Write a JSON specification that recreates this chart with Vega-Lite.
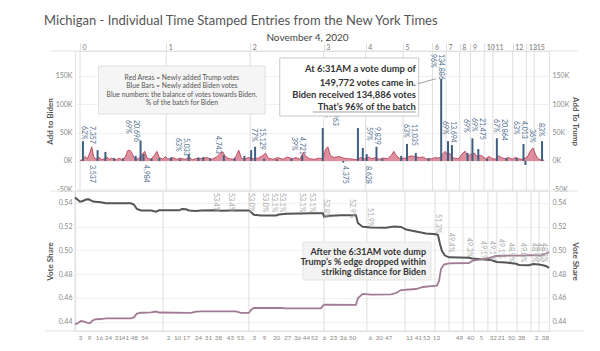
{
  "$schema": "https://vega.github.io/schema/vega-lite/v6.json",
  "background": "white",
  "padding": {"left": 44, "top": 14, "right": 0, "bottom": 0},
  "title": {"text": "Michigan - Individual Time Stamped Entries from the New York Times", "anchor": "start", "frame": "bounds", "font": "Lato", "fontSize": 13, "fontWeight": "normal", "color": "#555555", "offset": 4},
  "config": {
    "view": {"stroke": "#e2e2e2"},
    "font": "Lato",
    "axis": {"labelFont": "Lato", "titleFont": "Lato", "domain": false, "ticks": false, "labelFontSize": 7, "labelColor": "#888888", "titleFontSize": 8, "titleColor": "#555555", "titleFontWeight": "bold", "gridColor": "#f1f1f1", "labelOverlap": false},
    "text": {"font": "Lato"}
  },
  "datasets": {
    "hours": [
      {"i": 0, "h": "0"}, {"i": 35.3, "h": "1"}, {"i": 69.7, "h": "2"}, {"i": 99.8, "h": "3"}, {"i": 117, "h": "4"},
      {"i": 132.3, "h": "5"}, {"i": 144.3, "h": "6"}, {"i": 149.9, "h": "7"}, {"i": 155.5, "h": "8"}, {"i": 159.9, "h": "9"},
      {"i": 165.5, "h": "10"}, {"i": 169.1, "h": "11"}, {"i": 177.2, "h": "12"}, {"i": 182.8, "h": "13"}, {"i": 186, "h": "15"}
    ],
    "blue": [
      {"i": 1.2, "v": 35000}, {"i": 7.2, "v": 19000}, {"i": 10.4, "v": 16000}, {"i": 14, "v": 5000}, {"i": 17.6, "v": 4000},
      {"i": 22.8, "v": 9000}, {"i": 24.8, "v": 36000}, {"i": 26, "v": 12000}, {"i": 29.3, "v": 4000}, {"i": 32.5, "v": 5000},
      {"i": 37.3, "v": 6000}, {"i": 40.9, "v": 3000}, {"i": 44.5, "v": 12000}, {"i": 48.5, "v": 6000}, {"i": 50.5, "v": 7000},
      {"i": 53.3, "v": 4000}, {"i": 58.9, "v": 10000}, {"i": 63.3, "v": 5000}, {"i": 67.3, "v": 9000}, {"i": 70.1, "v": 19000},
      {"i": 71.7, "v": 25000}, {"i": 75.4, "v": 4000}, {"i": 80.6, "v": 3000}, {"i": 86.6, "v": 4000}, {"i": 91, "v": 10000},
      {"i": 99.4, "v": 58000}, {"i": 107.8, "v": -3000}, {"i": 113.8, "v": 58000}, {"i": 115.8, "v": 23000}, {"i": 117.4, "v": 12000},
      {"i": 121.4, "v": 25000}, {"i": 123.8, "v": 4000}, {"i": 131.5, "v": 9000}, {"i": 133.9, "v": 30000}, {"i": 137.5, "v": 14000},
      {"i": 142.7, "v": 5000}, {"i": 147.9, "v": 145000}, {"i": 150.7, "v": 35000}, {"i": 152.3, "v": 28000}, {"i": 158.7, "v": 14000},
      {"i": 160.7, "v": 40000}, {"i": 163.1, "v": 21000}, {"i": 166.7, "v": 4000}, {"i": 170.7, "v": 40000}, {"i": 174.7, "v": 5000},
      {"i": 178.8, "v": 6000}, {"i": 181.6, "v": 30000}, {"i": 182.4, "v": -7000}, {"i": 189.2, "v": 35000}
    ],
    "red": [
      {"i":0,"v":0},{"i":1,"v":3000},{"i":2,"v":8000},{"i":3,"v":4000},{"i":4,"v":14000},{"i":4.8,"v":25000},{"i":5.6,"v":8000},{"i":6.5,"v":3000},{"i":8,"v":6000},{"i":9,"v":2000},{"i":11,"v":7000},{"i":12,"v":3000},{"i":13,"v":5000},{"i":15,"v":2000},{"i":16,"v":5000},{"i":17,"v":3000},{"i":18.5,"v":6000},{"i":19.5,"v":18000},{"i":20.5,"v":19000},{"i":21.5,"v":12000},{"i":22.5,"v":3000},{"i":24,"v":4000},{"i":26.5,"v":17000},{"i":27.5,"v":5000},{"i":29,"v":3000},{"i":30.5,"v":10000},{"i":31.5,"v":17000},{"i":32.5,"v":6000},{"i":34,"v":3000},{"i":35,"v":8000},{"i":36,"v":3000},{"i":38,"v":6000},{"i":39.5,"v":3000},{"i":41,"v":5000},{"i":43,"v":3000},{"i":45,"v":6000},{"i":46,"v":2000},{"i":48,"v":5000},{"i":50,"v":4000},{"i":52,"v":6000},{"i":54,"v":3000},{"i":56,"v":7000},{"i":57.5,"v":14000},{"i":58.5,"v":16000},{"i":59.5,"v":8000},{"i":61,"v":4000},{"i":63,"v":3000},{"i":64,"v":9000},{"i":65,"v":19000},{"i":66,"v":6000},{"i":67,"v":3000},{"i":69,"v":6000},{"i":71,"v":4000},{"i":73,"v":5000},{"i":75,"v":10000},{"i":76,"v":14000},{"i":77,"v":5000},{"i":79,"v":3000},{"i":81,"v":6000},{"i":83,"v":3000},{"i":85,"v":7000},{"i":87,"v":4000},{"i":88.5,"v":6000},{"i":90,"v":3000},{"i":91.5,"v":15000},{"i":92.5,"v":8000},{"i":94,"v":4000},{"i":96,"v":3000},{"i":98,"v":5000},{"i":99.5,"v":4000},{"i":100.5,"v":20000},{"i":101.5,"v":25000},{"i":102.5,"v":10000},{"i":104,"v":6000},{"i":106,"v":8000},{"i":108,"v":5000},{"i":110,"v":4000},{"i":112,"v":3000},{"i":113,"v":2000},{"i":115,"v":6000},{"i":116.5,"v":4000},{"i":118,"v":7000},{"i":119.5,"v":4000},{"i":121,"v":6000},{"i":122.5,"v":3000},{"i":124,"v":5000},{"i":126,"v":4000},{"i":127.5,"v":10000},{"i":128.5,"v":17000},{"i":129.5,"v":10000},{"i":131,"v":4000},{"i":133,"v":5000},{"i":135.5,"v":9000},{"i":137,"v":8000},{"i":139,"v":6000},{"i":140.5,"v":7000},{"i":142,"v":3000},{"i":144,"v":4000},{"i":145.5,"v":6000},{"i":147,"v":5000},{"i":148.5,"v":12000},{"i":149.5,"v":17000},{"i":150.5,"v":10000},{"i":151.5,"v":13000},{"i":153,"v":5000},{"i":155,"v":4000},{"i":156,"v":10000},{"i":157,"v":15000},{"i":157.8,"v":17000},{"i":158.8,"v":8000},{"i":160,"v":12000},{"i":161.5,"v":14000},{"i":162.5,"v":8000},{"i":164,"v":10000},{"i":165,"v":8000},{"i":166,"v":4000},{"i":167.5,"v":8000},{"i":168.5,"v":5000},{"i":170,"v":3000},{"i":171.5,"v":9000},{"i":172.5,"v":6000},{"i":174,"v":4000},{"i":175.5,"v":6000},{"i":177,"v":3000},{"i":178,"v":6000},{"i":179.5,"v":4000},{"i":181,"v":3000},{"i":183,"v":6000},{"i":184.5,"v":18000},{"i":185.5,"v":23000},{"i":186.5,"v":12000},{"i":187.5,"v":4000},{"i":188.5,"v":2000},{"i":189.5,"v":3000},{"i":190,"v":0}
    ],
    "barlabels": [
      {"i": 3.2, "v": 61680, "num": "7,357", "pct": "62%"},
      {"i": 21.2, "v": 72260, "num": "20,696", "pct": "69%"},
      {"i": 41.9, "v": 40510, "num": "5,033", "pct": "63%"},
      {"i": 54.9, "v": 44030, "num": "4,743", "pct": ""},
      {"i": 72.9, "v": 58150, "num": "15,129", "pct": "77%"},
      {"i": 89.4, "v": 42270, "num": "4,721", "pct": "39%"},
      {"i": 102.6, "v": 100490, "num": "22,963", "pct": "83%"},
      {"i": 119.8, "v": 59910, "num": "9,829", "pct": "59%"},
      {"i": 135.1, "v": 65210, "num": "11,035", "pct": "63%"},
      {"i": 146.3, "v": 188710, "num": "134,886", "pct": "96%"},
      {"i": 151.1, "v": 70500, "num": "13,694", "pct": "69%"},
      {"i": 159.9, "v": 74030, "num": "", "pct": "69%"},
      {"i": 163.1, "v": 75790, "num": "21,475", "pct": "69%"},
      {"i": 172.1, "v": 74030, "num": "20,864", "pct": "67%"},
      {"i": 180.0, "v": 70500, "num": "4,013", "pct": "63%"},
      {"i": 186.8, "v": 56390, "num": "", "pct": "36%"},
      {"i": 190.4, "v": 66970, "num": "", "pct": "83%"},
      {"i": 3.2, "v": -7130, "num": "3,537", "pct": ""},
      {"i": 25.3, "v": -7130, "num": "4,984", "pct": ""},
      {"i": 107.0, "v": -8900, "num": "4,375", "pct": ""},
      {"i": 116.2, "v": -8900, "num": "8,628", "pct": ""}
    ],
    "trump": [
      {"i":0,"v":0.5444},{"i":1.2,"v":0.5424},{"i":2.0,"v":0.5410},{"i":3.2,"v":0.5416},{"i":4.4,"v":0.5428},{"i":5.6,"v":0.5430},{"i":6.4,"v":0.5420},{"i":7.2,"v":0.5411},{"i":10.4,"v":0.5405},{"i":12.4,"v":0.5396},{"i":22.4,"v":0.5396},{"i":23.6,"v":0.5386},{"i":24.8,"v":0.5348},{"i":26.5,"v":0.5336},{"i":30.5,"v":0.5336},{"i":32.5,"v":0.5325},{"i":33.7,"v":0.5337},{"i":41.7,"v":0.5337},{"i":42.9,"v":0.5348},{"i":44.5,"v":0.5346},{"i":45.7,"v":0.5336},{"i":48.5,"v":0.5331},{"i":50.5,"v":0.5336},{"i":56.5,"v":0.5337},{"i":58.5,"v":0.5333},{"i":62.5,"v":0.5336},{"i":69.7,"v":0.5336},{"i":70.5,"v":0.5323},{"i":71.7,"v":0.5299},{"i":74.5,"v":0.5293},{"i":80.6,"v":0.5293},{"i":81.8,"v":0.5302},{"i":84.6,"v":0.5308},{"i":90.6,"v":0.5310},{"i":94.6,"v":0.5312},{"i":99.4,"v":0.5312},{"i":99.8,"v":0.5283},{"i":102.6,"v":0.5291},{"i":106.6,"v":0.5295},{"i":112.6,"v":0.5295},{"i":113.4,"v":0.5230},{"i":114.6,"v":0.5209},{"i":115.4,"v":0.5198},{"i":118.6,"v":0.5192},{"i":124.6,"v":0.5190},{"i":127.9,"v":0.5201},{"i":130.7,"v":0.5197},{"i":132.7,"v":0.5175},{"i":136.7,"v":0.5159},{"i":140.7,"v":0.5142},{"i":144.7,"v":0.5135},{"i":145.5,"v":0.5129},{"i":146.3,"v":0.5053},{"i":147.1,"v":0.4994},{"i":148.3,"v":0.4956},{"i":149.9,"v":0.4941},{"i":157.9,"v":0.4938},{"i":159.1,"v":0.4931},{"i":162.7,"v":0.4924},{"i":166.7,"v":0.4918},{"i":169.1,"v":0.4901},{"i":172.7,"v":0.4897},{"i":176.8,"v":0.4886},{"i":178.0,"v":0.4876},{"i":182.0,"v":0.4874},{"i":183.6,"v":0.4885},{"i":186.0,"v":0.4880},{"i":188.0,"v":0.4872},{"i":189.2,"v":0.4864},{"i":190,"v":0.4851}
    ],
    "biden": [
      {"i":0,"v":0.4376},{"i":1.2,"v":0.4387},{"i":2.4,"v":0.4404},{"i":3.6,"v":0.4400},{"i":4.8,"v":0.4390},{"i":6.0,"v":0.4385},{"i":6.8,"v":0.4404},{"i":8.0,"v":0.4418},{"i":10.4,"v":0.4421},{"i":12.4,"v":0.4427},{"i":22.4,"v":0.4427},{"i":23.6,"v":0.4435},{"i":24.8,"v":0.4466},{"i":26.5,"v":0.4474},{"i":30.5,"v":0.4477},{"i":32.5,"v":0.4484},{"i":33.7,"v":0.4476},{"i":46.5,"v":0.4472},{"i":48.5,"v":0.4483},{"i":50.5,"v":0.4486},{"i":64.5,"v":0.4486},{"i":66.5,"v":0.4473},{"i":69.7,"v":0.4472},{"i":70.5,"v":0.4497},{"i":71.7,"v":0.4514},{"i":82.6,"v":0.4514},{"i":84.6,"v":0.4511},{"i":98.6,"v":0.4511},{"i":99.8,"v":0.4543},{"i":112.6,"v":0.4540},{"i":113.4,"v":0.4598},{"i":115.4,"v":0.4633},{"i":118.6,"v":0.4627},{"i":126.7,"v":0.4629},{"i":128.7,"v":0.4640},{"i":130.7,"v":0.4665},{"i":136.7,"v":0.4674},{"i":139.5,"v":0.4691},{"i":142.7,"v":0.4699},{"i":145.1,"v":0.4703},{"i":145.9,"v":0.4741},{"i":146.7,"v":0.4842},{"i":147.9,"v":0.4880},{"i":149.9,"v":0.4890},{"i":157.9,"v":0.4893},{"i":159.5,"v":0.4914},{"i":162.7,"v":0.4923},{"i":166.7,"v":0.4939},{"i":168.7,"v":0.4952},{"i":174.7,"v":0.4956},{"i":178.8,"v":0.4956},{"i":182.8,"v":0.4960},{"i":186.8,"v":0.4956},{"i":188.8,"v":0.4973},{"i":190,"v":0.4986}
    ],
    "sharelabels": [
      {"i":56.5,"v":0.5483,"t":"53.4%"},{"i":62.5,"v":0.5483,"t":"53.4%"},{"i":70.5,"v":0.5483,"t":"53.0%"},{"i":76.2,"v":0.5483,"t":"53.0%"},{"i":79.8,"v":0.5483,"t":"53.1%"},{"i":83.0,"v":0.5483,"t":"53.1%"},{"i":91.0,"v":0.5483,"t":"53.1%"},{"i":95.0,"v":0.5483,"t":"53.1%"},{"i":100.6,"v":0.5433,"t":"52.8%"},{"i":111.0,"v":0.5433,"t":"52.9%"},{"i":118.2,"v":0.5357,"t":"51.9%"},{"i":145.5,"v":0.5306,"t":"51.3%"},{"i":150.7,"v":0.5146,"t":"49.4%"},{"i":157.9,"v":0.5104,"t":"49.3%"},{"i":163.5,"v":0.5078,"t":"49.1%"},{"i":167.1,"v":0.5078,"t":"49.1%"},{"i":170.7,"v":0.5095,"t":"49.1%"},{"i":174.7,"v":0.5062,"t":"48.9%"},{"i":179.6,"v":0.5062,"t":"49.0%"},{"i":184.0,"v":0.5062,"t":"48.9%"},{"i":186.0,"v":0.5062,"t":"48.9%"},{"i":188.0,"v":0.5062,"t":"48.8%"}
    ]
  },
  "spacing": 0,
  "bounds": "flush",
  "vconcat": [
    {
      "width": 474,
      "height": 140,
      "resolve": {"scale": {"y": "independent"}, "axis": {"x": "independent", "y": "independent"}},
      "layer": [
        {
          "data": {"name": "hours"},
          "mark": {"type": "rule", "color": "#dedede", "strokeWidth": 1},
          "encoding": {
            "x": {"field": "i", "type": "quantitative", "scale": {"domain": [0, 190], "nice": false},
              "axis": {"orient": "top", "values": [0, 35.3, 69.7, 99.8, 117, 132.3, 144.3, 149.9, 155.5, 159.9, 165.5, 169.1, 177.2, 182.8, 186],
                "labelExpr": "['0','1','2','3','4','5','6','7','8','9','10','11','12','13','15'][indexof([0, 35.3, 69.7, 99.8, 117, 132.3, 144.3, 149.9, 155.5, 159.9, 165.5, 169.1, 177.2, 182.8, 186], datum.value)]",
                "labelAlign": "left", "labelOffset": 2, "labelPadding": -7, "ticks": true, "tickSize": 8, "tickColor": "#dedede",
                "labelOverlap": false, "labelFlush": false, "labelBound": false, "grid": false, "labelFontSize": 7, "labelColor": "#777777",
                "title": "November 4, 2020", "titleFontSize": 10, "titleFontWeight": "normal", "titleColor": "#444444", "titlePadding": -9, "titleX": 232,
                "minExtent": 18, "maxExtent": 18}
            }
          }
        },
        {
          "data": {"values": [{"x1": -12, "x2": 204, "y": 194000}, {"x1": -12, "x2": 204, "y": -53000}]},
          "mark": {"type": "rule", "color": "#e2e2e2", "strokeWidth": 1},
          "encoding": {"x": {"field": "x1", "type": "quantitative", "axis": null}, "x2": {"field": "x2"}, "y": {"field": "y", "type": "quantitative", "axis": null, "scale": {"domain": [-53000, 194000], "nice": false}}}
        },
        {
          "data": {"name": "red"},
          "mark": {"type": "area", "color": "#c8465f", "fillOpacity": 0.6, "line": {"color": "#b8344e", "strokeWidth": 0.8}},
          "encoding": {
            "x": {"field": "i", "type": "quantitative", "axis": null},
            "y": {"field": "v", "type": "quantitative", "scale": {"domain": [-53000, 194000], "nice": false},
              "axis": {"orient": "left", "title": "Add to Biden", "values": [-50000, 0, 50000, 100000, 150000], "labelExpr": "datum.value/1000 + 'K'", "labelOverlap": false, "grid": true, "labelPadding": 3, "titlePadding": 4, "minExtent": 17, "maxExtent": 17}}
          }
        },
        {
          "data": {"name": "blue"},
          "mark": {"type": "bar", "size": 2, "color": "#3f5f80"},
          "encoding": {
            "x": {"field": "i", "type": "quantitative", "axis": null},
            "y": {"field": "v", "type": "quantitative", "scale": {"domain": [-53000, 194000], "nice": false},
              "axis": {"orient": "right", "title": "Add To Trump", "values": [-50000, 0, 50000, 100000, 150000], "labelExpr": "datum.value/1000 + 'K'", "labelOverlap": false, "grid": false, "labelPadding": 3, "titlePadding": 4, "minExtent": 17, "maxExtent": 17}}
          }
        },
        {
          "data": {"name": "barlabels"},
          "mark": {"type": "text", "angle": 90, "align": "left", "baseline": "middle", "dy": -4, "fontSize": 7, "color": "#4d6c8b"},
          "encoding": {"x": {"field": "i", "type": "quantitative", "axis": null}, "y": {"field": "v", "type": "quantitative", "axis": null, "scale": {"domain": [-53000, 194000], "nice": false}}, "text": {"field": "num"}}
        },
        {
          "data": {"name": "barlabels"},
          "mark": {"type": "text", "angle": 90, "align": "left", "baseline": "middle", "dy": 4, "fontSize": 7, "color": "#4d6c8b"},
          "encoding": {"x": {"field": "i", "type": "quantitative", "axis": null}, "y": {"field": "v", "type": "quantitative", "axis": null, "scale": {"domain": [-53000, 194000], "nice": false}}, "text": {"field": "pct"}}
        },
        {
          "data": {"values": [{"x1": 7.6, "x2": 75.8, "y1": 167500, "y2": 82850}]},
          "mark": {"type": "rect", "fill": "#f5f5f5", "stroke": "#e0e0e0", "strokeWidth": 1},
          "encoding": {"x": {"field": "x1", "type": "quantitative", "axis": null}, "x2": {"field": "x2"}, "y": {"field": "y1", "type": "quantitative", "axis": null, "scale": {"domain": [-53000, 194000], "nice": false}}, "y2": {"field": "y2"}}
        },
        {
          "data": {"values": [
            {"i": 41.7, "v": 145830, "t": "Red Areas = Newly added Trump votes"},
            {"i": 41.7, "v": 131720, "t": "Blue Bars = Newly added Biden votes"},
            {"i": 41.7, "v": 116900, "t": "Blue numbers: the balance of votes towards Biden."},
            {"i": 41.7, "v": 102260, "t": "% of the batch for Biden"}
          ]},
          "mark": {"type": "text", "align": "center", "baseline": "middle", "fontSize": 6.8, "color": "#555555"},
          "encoding": {"x": {"field": "i", "type": "quantitative", "axis": null}, "y": {"field": "v", "type": "quantitative", "axis": null, "scale": {"domain": [-53000, 194000], "nice": false}}, "text": {"field": "t"}}
        },
        {
          "data": {"values": [{"x1": 81.8, "x2": 138.7, "y1": 181650, "y2": 79320}]},
          "mark": {"type": "rect", "fill": "#ffffff", "stroke": "#c8c8c8", "strokeWidth": 1},
          "encoding": {"x": {"field": "x1", "type": "quantitative", "axis": null}, "x2": {"field": "x2"}, "y": {"field": "y1", "type": "quantitative", "axis": null, "scale": {"domain": [-53000, 194000], "nice": false}}, "y2": {"field": "y2"}}
        },
        {
          "data": {"values": [
            {"i": 137.5, "v": 161710, "t": "At 6:31AM a vote dump of"},
            {"i": 137.5, "v": 138070, "t": "149,772 votes came in."},
            {"i": 137.5, "v": 116370, "t": "Biden received 134,886 votes"},
            {"i": 137.5, "v": 95200, "t": "That’s 96% of the batch"}
          ]},
          "mark": {"type": "text", "align": "right", "baseline": "middle", "fontSize": 9.4, "fontWeight": "bold", "color": "#333333"},
          "encoding": {"x": {"field": "i", "type": "quantitative", "axis": null}, "y": {"field": "v", "type": "quantitative", "axis": null, "scale": {"domain": [-53000, 194000], "nice": false}}, "text": {"field": "t"}}
        },
        {
          "data": {"values": [{"x1": 95.4, "x2": 137.5, "y1": 86380, "y2": 86380}, {"x1": 138.4, "x2": 145.8, "y1": 136300, "y2": 145130}]},
          "mark": {"type": "rule", "color": "#888888", "strokeWidth": 0.8},
          "encoding": {"x": {"field": "x1", "type": "quantitative", "axis": null}, "x2": {"field": "x2"}, "y": {"field": "y1", "type": "quantitative", "axis": null, "scale": {"domain": [-53000, 194000], "nice": false}}, "y2": {"field": "y2"}}
        }
      ]
    },
    {
      "width": 474,
      "height": 140,
      "resolve": {"scale": {"y": "independent"}, "axis": {"x": "independent", "y": "independent"}},
      "layer": [
        {
          "data": {"name": "hours"},
          "mark": {"type": "rule", "color": "#dedede", "strokeWidth": 1},
          "encoding": {
            "x": {"field": "i", "type": "quantitative", "scale": {"domain": [0, 190], "nice": false},
              "axis": {"orient": "bottom", "values": [2.0,5.6,9.6,13.2,17.2,20.0,23.6,27.7,37.3,40.9,44.5,49.3,53.3,57.3,62.1,66.1,71.7,75.8,80.6,85.0,89.0,92.6,95.8,99.8,103.4,107.4,111.0,118.2,121.8,125.5,133.9,137.5,140.7,144.7,153.9,158.3,162.7,167.5,170.7,174.7,178.8,184.8,188.4],
                "labelExpr": "['3','9','16','24','31','41','48','54','2','10','17','24','31','38','43','53','3','9','20','27','36','44','52','6','23','36','50','6','20','47','11','41','53','13','49','40','5','32','21','50','38','2','38'][indexof([2.0,5.6,9.6,13.2,17.2,20.0,23.6,27.7,37.3,40.9,44.5,49.3,53.3,57.3,62.1,66.1,71.7,75.8,80.6,85.0,89.0,92.6,95.8,99.8,103.4,107.4,111.0,118.2,121.8,125.5,133.9,137.5,140.7,144.7,153.9,158.3,162.7,167.5,170.7,174.7,178.8,184.8,188.4], datum.value)]",
                "labelOverlap": false, "labelFlush": false, "labelBound": false, "labelPadding": 3, "grid": false, "title": null, "labelFontSize": 6.3, "labelColor": "#888888", "labelAngle": 0}
            }
          }
        },
        {
          "data": {"values": [{"x1": -12, "x2": 204, "y": 0.432}]},
          "mark": {"type": "rule", "color": "#e2e2e2", "strokeWidth": 1},
          "encoding": {"x": {"field": "x1", "type": "quantitative", "axis": null}, "x2": {"field": "x2"}, "y": {"field": "y", "type": "quantitative", "axis": null, "scale": {"domain": [0.432, 0.55], "nice": false, "zero": false}}}
        },
        {
          "data": {"name": "trump"},
          "mark": {"type": "line", "color": "#555555", "strokeWidth": 2},
          "encoding": {
            "x": {"field": "i", "type": "quantitative", "axis": null},
            "y": {"field": "v", "type": "quantitative", "scale": {"domain": [0.432, 0.55], "nice": false, "zero": false},
              "axis": {"orient": "left", "title": "Vote Share", "values": [0.44, 0.46, 0.48, 0.5, 0.52, 0.54], "format": ".2f", "labelOverlap": false, "grid": true, "labelPadding": 3, "titlePadding": 4, "minExtent": 17, "maxExtent": 17}}
          }
        },
        {
          "data": {"name": "biden"},
          "mark": {"type": "line", "color": "#a27a93", "strokeWidth": 1.8},
          "encoding": {
            "x": {"field": "i", "type": "quantitative", "axis": null},
            "y": {"field": "v", "type": "quantitative", "scale": {"domain": [0.432, 0.55], "nice": false, "zero": false},
              "axis": {"orient": "right", "title": "Vote Share", "values": [0.44, 0.46, 0.48, 0.5, 0.52, 0.54], "format": ".2f", "labelOverlap": false, "grid": false, "labelPadding": 3, "titlePadding": 4, "minExtent": 17, "maxExtent": 17}}
          }
        },
        {
          "data": {"name": "sharelabels"},
          "mark": {"type": "text", "angle": 90, "align": "left", "baseline": "middle", "fontSize": 7, "color": "#a5a5a5"},
          "encoding": {"x": {"field": "i", "type": "quantitative", "axis": null}, "y": {"field": "v", "type": "quantitative", "axis": null, "scale": {"domain": [0.432, 0.55], "nice": false, "zero": false}}, "text": {"field": "t"}}
        },
        {
          "data": {"values": [{"x1": 91.4, "x2": 142.7, "y1": 0.507, "y2": 0.475}]},
          "mark": {"type": "rect", "fill": "#f3f3f3", "stroke": "#e4e4e4", "strokeWidth": 1},
          "encoding": {"x": {"field": "x1", "type": "quantitative", "axis": null}, "x2": {"field": "x2"}, "y": {"field": "y1", "type": "quantitative", "axis": null, "scale": {"domain": [0.432, 0.55], "nice": false, "zero": false}}, "y2": {"field": "y2"}}
        },
        {
          "data": {"values": [
            {"i": 140.7, "v": 0.4988, "t": "After the 6:31AM vote dump"},
            {"i": 140.7, "v": 0.4901, "t": "Trump’s % edge dropped within"},
            {"i": 140.7, "v": 0.4820, "t": "striking distance for Biden"}
          ]},
          "mark": {"type": "text", "align": "right", "baseline": "middle", "fontSize": 9, "fontWeight": "bold", "color": "#333333"},
          "encoding": {"x": {"field": "i", "type": "quantitative", "axis": null}, "y": {"field": "v", "type": "quantitative", "axis": null, "scale": {"domain": [0.432, 0.55], "nice": false, "zero": false}}, "text": {"field": "t"}}
        }
      ]
    }
  ]
}
